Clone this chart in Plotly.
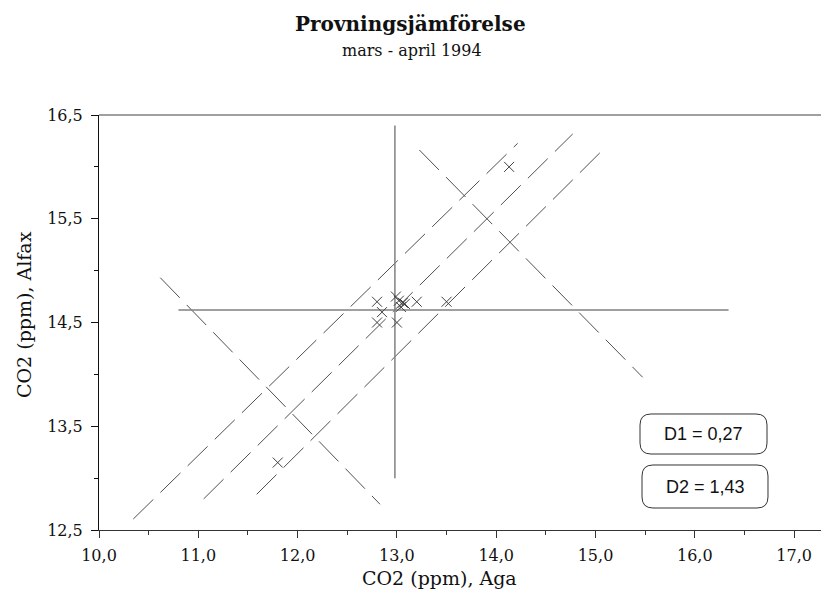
import plotly.graph_objects as go

# ---- data ----
aga = [12.8, 12.85, 12.8, 13.0, 12.99, 13.02, 13.06, 13.04, 13.08, 13.2, 13.5, 11.8, 14.13]
alfax = [14.7, 14.6, 14.5, 14.5, 14.75, 14.71, 14.69, 14.65, 14.68, 14.7, 14.7, 13.15, 16.0]

median_x = 12.98
median_y = 14.62
vline_y = [13.0, 16.4]
hline_x = [10.8, 16.34]

diag_upper_x = [10.345, 14.216]
diag_upper_y = [12.606, 16.227]
diag_mid_x = [11.054, 14.770]
diag_mid_y = [12.80, 16.317]
diag_lower_x = [11.588, 15.055]
diag_lower_y = [12.844, 16.146]
anti_left_x = [10.617, 12.830]
anti_left_y = [14.932, 12.748]
anti_right_x = [13.226, 15.475]
anti_right_y = [16.163, 13.972]

box_labels = ["D1 = 0,27", "D2 = 1,43"]

title_text = "Provningsjämförelse"
subtitle_text = "mars - april 1994"
x_title = "CO2 (ppm), Aga"
y_title = "CO2 (ppm), Alfax"

# ---- layout geometry (pixels) ----
W, H = 821, 605
L, R, T, B = 99, 0, 115, 75
PW = W - L - R
PH = H - T - B


def paper(px, py):
    return (px - L) / PW, (H - B - py) / PH


fig = go.Figure()

dash_style = dict(color="#505050", width=1, dash="28px,10px")
for xs, ys in [(diag_upper_x, diag_upper_y), (diag_mid_x, diag_mid_y),
               (diag_lower_x, diag_lower_y), (anti_left_x, anti_left_y),
               (anti_right_x, anti_right_y)]:
    fig.add_trace(go.Scatter(x=xs, y=ys, mode="lines", line=dash_style,
                             showlegend=False, hoverinfo="skip"))

solid = dict(color="#808080", width=1.5)
fig.add_trace(go.Scatter(x=[median_x, median_x], y=vline_y, mode="lines",
                         line=solid, showlegend=False))
fig.add_trace(go.Scatter(x=hline_x, y=[median_y, median_y], mode="lines",
                         line=solid, showlegend=False))

fig.add_trace(go.Scatter(x=aga, y=alfax, mode="markers",
                         marker=dict(symbol="x-thin", size=10,
                                     line=dict(width=1, color="#404040")),
                         showlegend=False))

font_serif = "DejaVu Serif"

x_end = 10 + PW / 99.3
fig.update_layout(
    width=W, height=H,
    margin=dict(l=L, r=R, t=T, b=B),
    paper_bgcolor="white", plot_bgcolor="white",
    separators=", ",
    font=dict(family=font_serif, size=16, color="#111"),
    xaxis=dict(range=[10, x_end], tick0=10, dtick=1, tickformat=".1f",
               showgrid=False, zeroline=False, showline=True,
               linecolor="#333", linewidth=1, ticks="outside", ticklen=7,
               tickcolor="#333", ticklabelstandoff=4,
               minor=dict(dtick=0.5, ticks="outside", ticklen=4, tickcolor="#333"),
               tickfont=dict(family=font_serif, size=16)),
    yaxis=dict(range=[12.5, 16.5], tick0=12.5, dtick=1, tickformat=".1f",
               showgrid=False, zeroline=False, showline=True,
               linecolor="#111", linewidth=1, ticks="outside", ticklen=7,
               tickcolor="#111", ticklabelstandoff=5,
               minor=dict(dtick=0.5, ticks="outside", ticklen=4, tickcolor="#111"),
               tickfont=dict(family=font_serif, size=16)),
)

# top border line (gray)
fig.add_shape(type="line", xref="paper", yref="paper", x0=0, x1=1, y0=1, y1=1,
              line=dict(color="#808080", width=1.5))


def rounded_box(x0, y0, x1, y1, r):
    def P(px, py):
        a, b = paper(px, py)
        return f"{a:.5f},{b:.5f}"
    path = (f"M {P(x0 + r, y0)} L {P(x1 - r, y0)} Q {P(x1, y0)} {P(x1, y0 + r)} "
            f"L {P(x1, y1 - r)} Q {P(x1, y1)} {P(x1 - r, y1)} "
            f"L {P(x0 + r, y1)} Q {P(x0, y1)} {P(x0, y1 - r)} "
            f"L {P(x0, y0 + r)} Q {P(x0, y0)} {P(x0 + r, y0)} Z")
    return path


boxes_px = [(640, 414, 767, 454), (642, 465, 768, 508)]
for (x0, y0, x1, y1), lab in zip(boxes_px, box_labels):
    fig.add_shape(type="path", xref="paper", yref="paper",
                  path=rounded_box(x0, y0, x1, y1, 11),
                  line=dict(color="#333", width=1), fillcolor="white")
    cx, cy = paper((x0 + x1) / 2, (y0 + y1) / 2)
    fig.add_annotation(x=cx, y=cy, xref="paper", yref="paper", text=lab,
                       showarrow=False, xanchor="center", yanchor="middle",
                       font=dict(family="Liberation Sans", size=18, color="#111"))

# titles
tx, ty = paper(410.5, 24)
fig.add_annotation(x=tx, y=ty, xref="paper", yref="paper",
                   text=f"<b>{title_text}</b>", showarrow=False,
                   xanchor="center", yanchor="middle",
                   font=dict(family=font_serif, size=20, color="#111"))
sx, sy = paper(412, 51)
fig.add_annotation(x=sx, y=sy, xref="paper", yref="paper",
                   text=subtitle_text, showarrow=False,
                   xanchor="center", yanchor="middle",
                   font=dict(family=font_serif, size=16, color="#111"))
ax, ay = paper(439, 578)
fig.add_annotation(x=ax, y=ay, xref="paper", yref="paper", text=x_title,
                   showarrow=False, xanchor="center", yanchor="middle",
                   font=dict(family=font_serif, size=19, color="#111"))
bx, by = paper(24, 315)
fig.add_annotation(x=bx, y=by, xref="paper", yref="paper", text=y_title,
                   showarrow=False, xanchor="center", yanchor="middle",
                   textangle=-90,
                   font=dict(family=font_serif, size=19, color="#111"))

fig.write_html("out.html")
